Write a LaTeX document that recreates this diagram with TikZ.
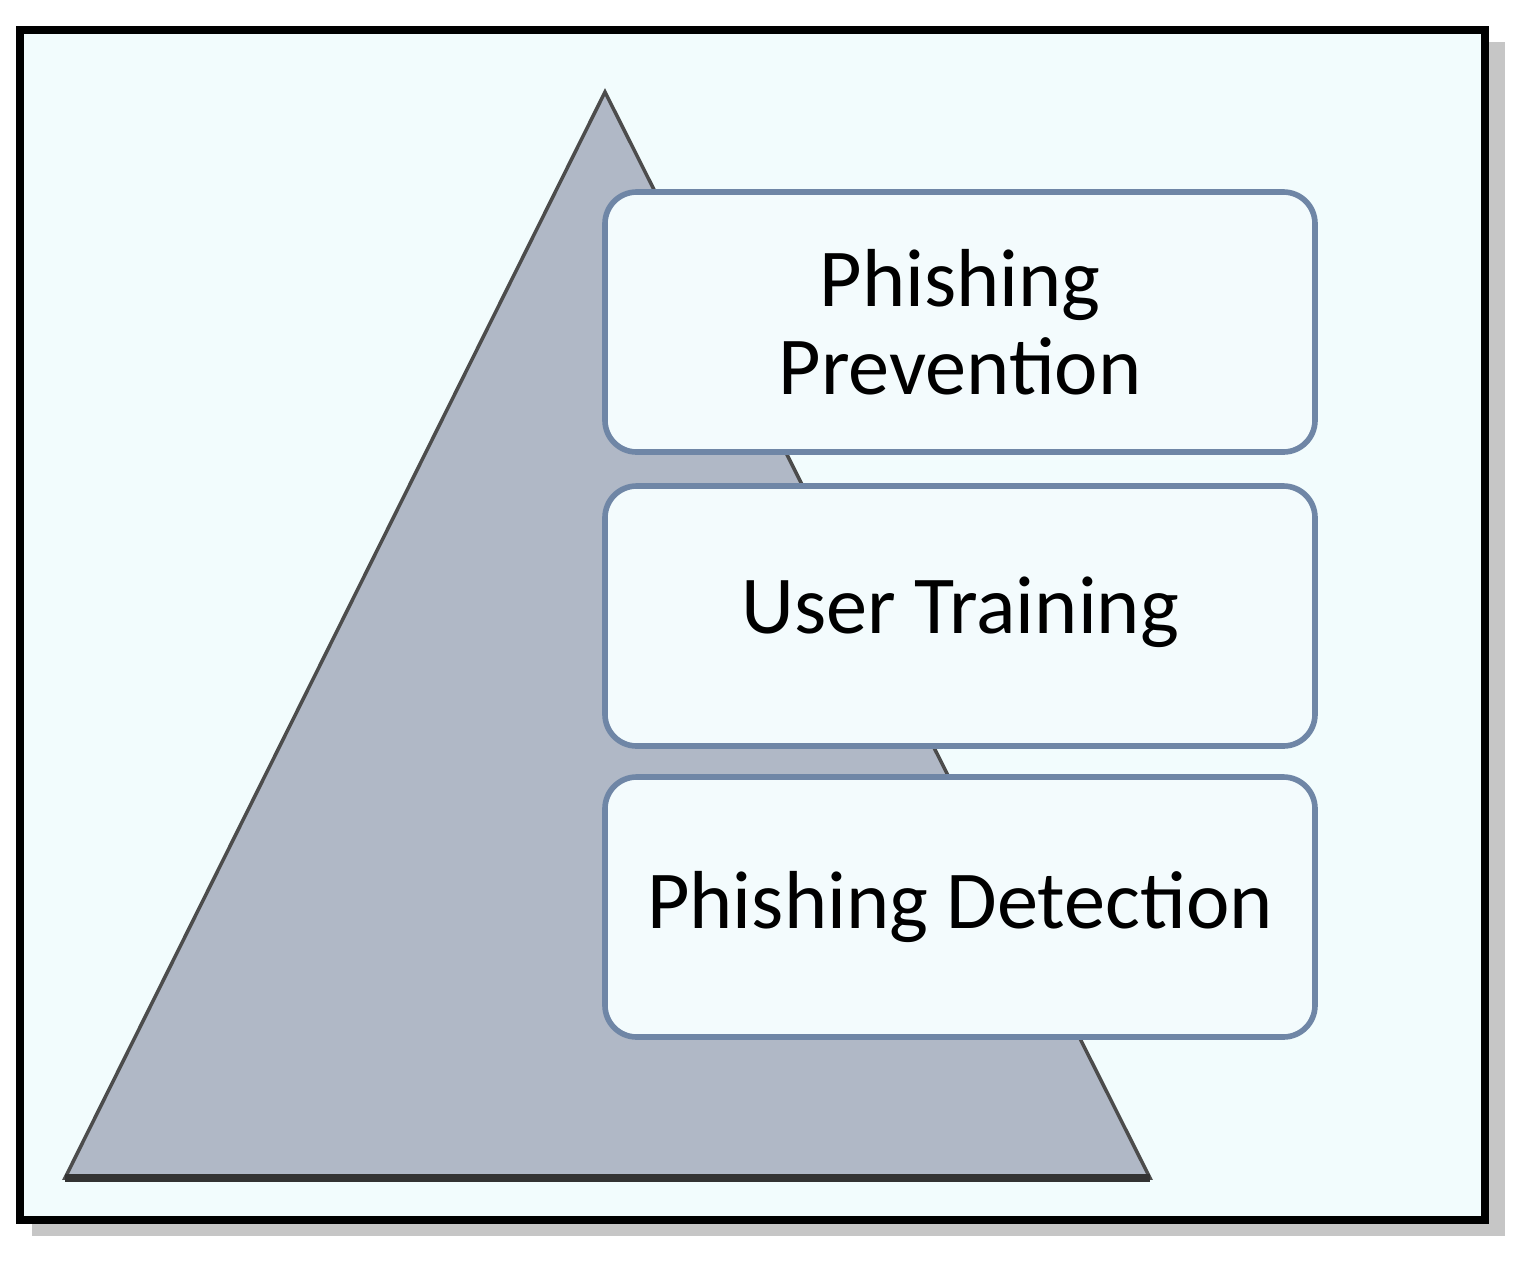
\documentclass[tikz,border=0pt]{standalone}
\usepackage{fontspec}
\setmainfont{Carlito}
\begin{document}
\begin{tikzpicture}[x=0.01cm,y=-0.01cm,
  box/.style={draw=boxedge,line width=1.6pt,fill=boxfill,rounded corners=9pt,minimum width=710*0.01cm,minimum height=260*0.01cm,align=center,inner sep=0pt,font=\fontsize{23.4}{25}\selectfont},
  ]
\definecolor{bg}{HTML}{F2FCFD}
\definecolor{boxfill}{HTML}{F3FBFD}
\definecolor{boxedge}{HTML}{6F86A6}
\definecolor{tri}{HTML}{B0B8C6}
\useasboundingbox (0,0) rectangle (1532,1263);
\fill[gray!45] (32,42) rectangle (1505,1236);
\draw[line width=2pt,fill=bg] (20,30) rectangle (1485,1220);
\draw[fill=tri,draw=gray!60!black,line width=1pt] (605,92) -- (1150,1178) -- (65,1178) -- cycle;
\draw[line width=2pt,draw=gray!40!black] (65,1178) -- (1150,1178);
\node[box] (p) at (960,322) {Phishing\\Prevention};
\node[box] (u) at (960,616) {\raisebox{6pt}{User Training}};
\node[box] (d) at (960,907) {\raisebox{3pt}{Phishing Detection}};
\end{tikzpicture}
\end{document}
